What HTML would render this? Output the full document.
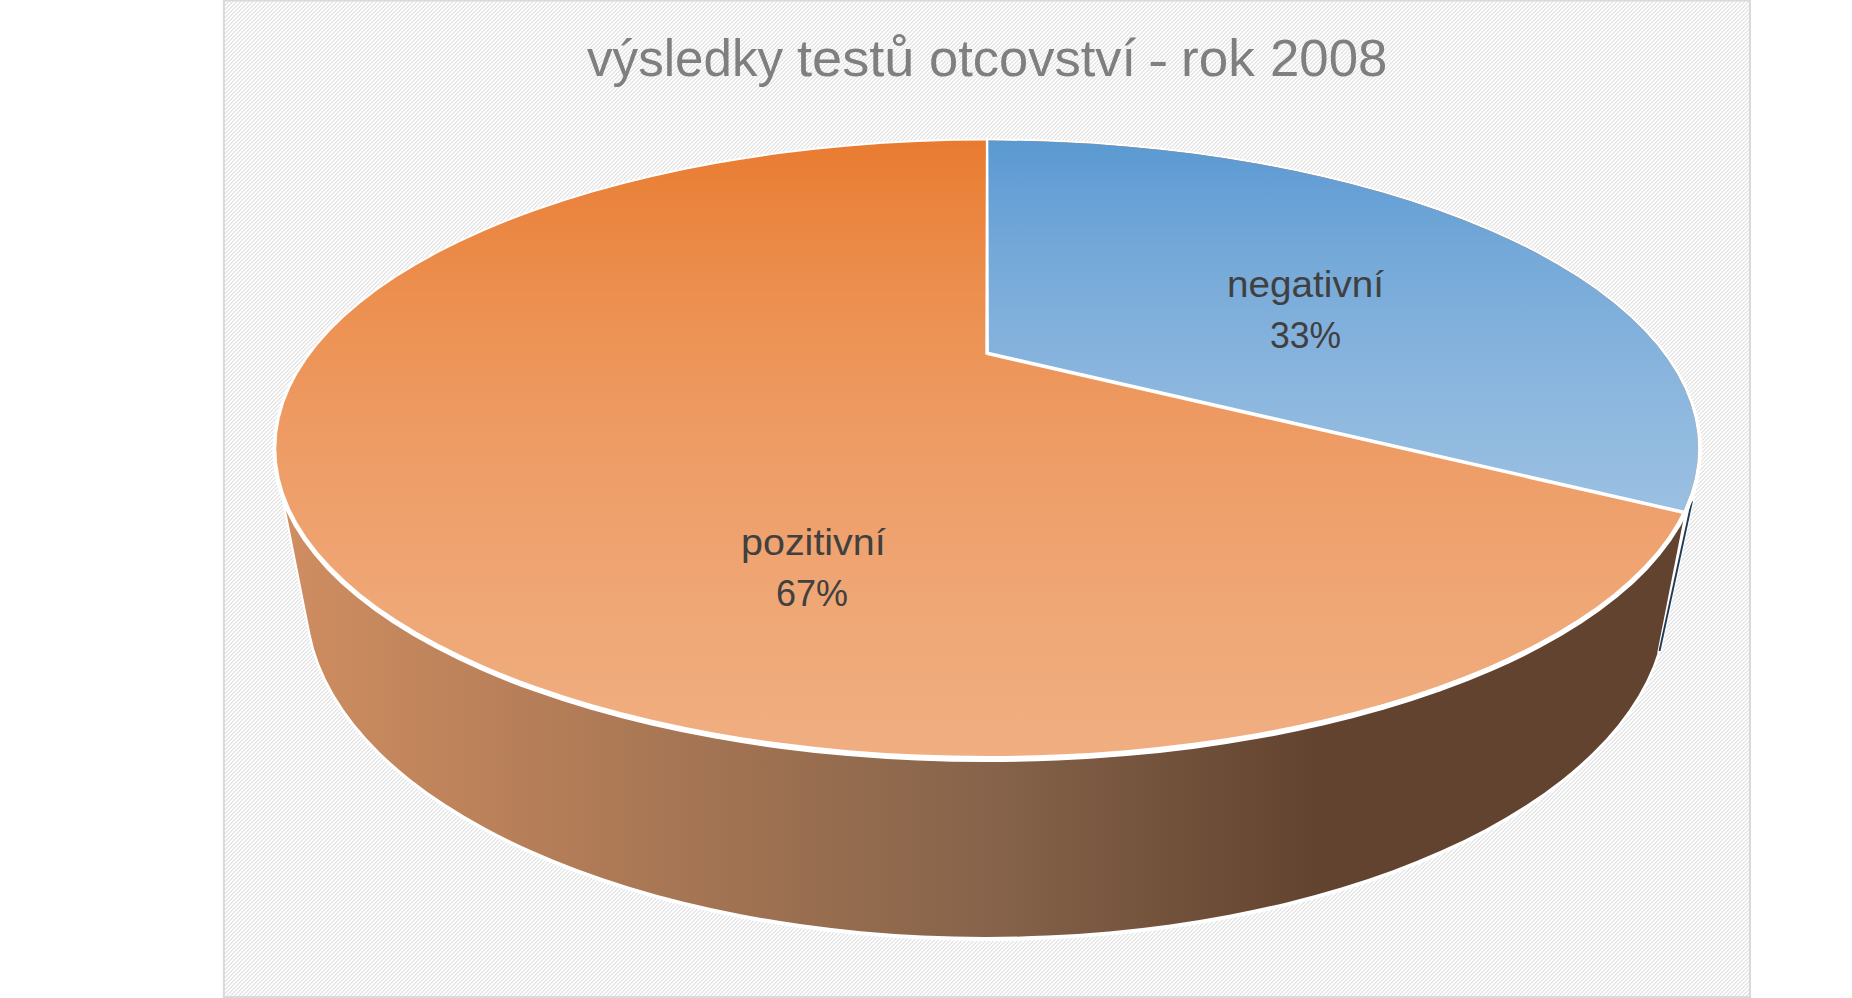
<!DOCTYPE html>
<html lang="cs">
<head>
<meta charset="utf-8">
<title>výsledky testů otcovství - rok 2008</title>
<style>
html,body{margin:0;padding:0;background:#fff;}
body{width:1852px;height:998px;overflow:hidden;position:relative;font-family:"Liberation Sans",sans-serif;}
#chart{position:absolute;left:224px;top:1px;width:1526px;height:996px;
background-color:#fff;background-position:0.9px 0;
background-image:repeating-linear-gradient(135deg,#e6e6e6 0,#e6e6e6 1.4142px,#fff 1.4142px,#fff 2.8284px);}
svg{position:absolute;left:0;top:0;}
.w{position:absolute;white-space:nowrap;transform-origin:0 0;line-height:1;}
.t{color:#7f7f7f;font-size:52.5px;}
.l{color:#404040;font-size:36.5px;}
</style>
</head>
<body>
<div id="chart"></div>
<svg width="1852" height="998" viewBox="0 0 1852 998">
<defs>
<linearGradient id="gs" gradientUnits="userSpaceOnUse" x1="290" y1="0" x2="1320" y2="0">
<stop offset="0" stop-color="#cf8d60"/>
<stop offset="0.68" stop-color="#86634a"/>
<stop offset="1" stop-color="#62432f"/>
</linearGradient>
<linearGradient id="go" gradientUnits="userSpaceOnUse" x1="0" y1="140.6" x2="0" y2="756.1">
<stop offset="0.0000" stop-color="#e97b30"/>
<stop offset="0.0833" stop-color="#ea833c"/>
<stop offset="0.1667" stop-color="#eb8946"/>
<stop offset="0.2500" stop-color="#ec8f4f"/>
<stop offset="0.3333" stop-color="#ed9457"/>
<stop offset="0.4167" stop-color="#ed985f"/>
<stop offset="0.5000" stop-color="#ee9c65"/>
<stop offset="0.5833" stop-color="#eea06b"/>
<stop offset="0.6667" stop-color="#efa370"/>
<stop offset="0.7500" stop-color="#efa775"/>
<stop offset="0.8333" stop-color="#efa979"/>
<stop offset="0.9167" stop-color="#f0ac7d"/>
<stop offset="1.0000" stop-color="#f0ae81"/>
</linearGradient>
<linearGradient id="gb" gradientUnits="userSpaceOnUse" x1="0" y1="140.6" x2="0" y2="512.2">
<stop offset="0.0000" stop-color="#5a99d2"/>
<stop offset="0.0833" stop-color="#629dd4"/>
<stop offset="0.1667" stop-color="#69a2d6"/>
<stop offset="0.2500" stop-color="#70a6d7"/>
<stop offset="0.3333" stop-color="#76aad9"/>
<stop offset="0.4167" stop-color="#7cadda"/>
<stop offset="0.5000" stop-color="#81b0dc"/>
<stop offset="0.5833" stop-color="#86b3dd"/>
<stop offset="0.6667" stop-color="#8bb6de"/>
<stop offset="0.7500" stop-color="#8fb9df"/>
<stop offset="0.8333" stop-color="#93bbe0"/>
<stop offset="0.9167" stop-color="#97bee1"/>
<stop offset="1.0000" stop-color="#9ac0e2"/>
</linearGradient>
<clipPath id="ce"><ellipse cx="987.2" cy="448.35" rx="710.9" ry="307.75"/></clipPath>
</defs>
<rect x="223.9" y="0.5" width="1526.1" height="996.6" fill="none" stroke="#d9d9d9" stroke-width="2"/>
<!-- white outline under everything -->
<ellipse cx="986.5" cy="602.5" rx="681.3" ry="338.5" fill="#fff"/>
<!-- side wall (hull of top and bottom ellipses) -->
<path d="M278.9,474.7 L310.4,633.7 A679.3,335.8 0 0 0 1662.3,635.2 L1695.3,475.8 A710.9,307.75 0 0 1 278.9,474.7 Z" fill="url(#gs)" stroke="#fff" stroke-width="4" stroke-linejoin="round" paint-order="stroke"/>
<!-- blue slice side sliver -->
<path d="M1685.3,510 L1697,480 L1694.2,500 L1661.6,651 L1657.2,653 Z" fill="#fff"/>
<path d="M1692,501 L1659.5,651" stroke="#1f3a55" stroke-width="1.9" fill="none"/>
<!-- white rim of top face -->
<ellipse cx="987.2" cy="450.35" rx="714.7" ry="311.75" fill="#fff"/>
<!-- top face -->
<ellipse cx="987.2" cy="448.35" rx="710.9" ry="307.75" fill="url(#go)"/>
<path d="M987.1,353.3 L987.1,100 L1800,100 L1800,538.9 Z" fill="url(#gb)" clip-path="url(#ce)"/>
<path d="M985.9,138.6 L988.3,138.6 L988.9,353.5 L985.3,354.7 Z" fill="#fff"/>
<path d="M987.1,353.3 L1684.5,512.5" fill="none" stroke="#fff" stroke-width="3.5"/>
</svg>
<div class="w t" id="t1" style="left:587.1px;top:31.7px;transform:scaleX(0.974);">výsledky</div>
<div class="w t" id="t2" style="left:796.5px;top:31.7px;transform:scaleX(1.032);">testů</div>
<div class="w t" id="t3" style="left:929.0px;top:31.7px;transform:scaleX(1.000);">otcovství</div>
<div class="w t" id="t4" style="left:1148.3px;top:33.5px;transform:scaleX(1.162);">-</div>
<div class="w t" id="t5" style="left:1181.3px;top:31.7px;transform:scaleX(1.010);">rok</div>
<div class="w t" id="t6" style="left:1270.0px;top:31.7px;transform:scaleX(1.005);">2008</div>
<div class="w l" id="l1" style="left:1227.4px;top:266.6px;transform:scaleX(1.060);">negativní</div>
<div class="w l" id="l2" style="left:1269.9px;top:318.0px;transform:scaleX(0.973);">33%</div>
<div class="w l" id="l3" style="left:740.5px;top:524.7px;transform:scaleX(1.081);">pozitivní</div>
<div class="w l" id="l4" style="left:775.9px;top:575.8px;transform:scaleX(0.984);">67%</div>
</body>
</html>
